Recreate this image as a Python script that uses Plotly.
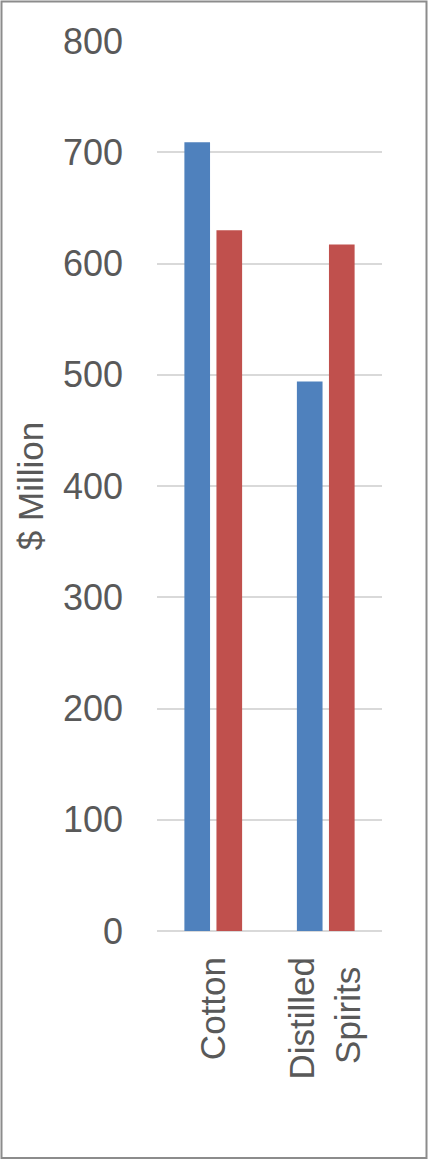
import plotly.graph_objects as go

categories = ["Cotton", "Distilled<br>Spirits\u00a0"]
series_a = [709, 494]
series_b = [630, 617]
y_ticks = [0, 100, 200, 300, 400, 500, 600, 700, 800]

W, H = 428, 1160
ML, MR, MT, MB = 157, 46, 41, 229
PW, PH = W - ML - MR, H - MT - MB

fig = go.Figure()
fig.add_trace(go.Bar(x=categories, y=series_a, name="Series 1",
                     marker=dict(color="#4F81BD", line=dict(width=0))))
fig.add_trace(go.Bar(x=categories, y=series_b, name="Series 2",
                     marker=dict(color="#C0504D", line=dict(width=0))))

font_family = "Liberation Sans, Arial, sans-serif"
txt = "#595959"

def px_x(p):
    return (p - ML) / PW

def px_y(p):
    return (H - MB - p) / PH

fig.update_layout(
    width=W, height=H,
    margin=dict(l=ML, r=MR, t=MT, b=MB, autoexpand=False),
    paper_bgcolor="white", plot_bgcolor="white",
    showlegend=False,
    barmode="group", bargap=0.43, bargroupgap=0.2,
    font=dict(family=font_family, color=txt, size=35),
    xaxis=dict(tickangle=-90, tickfont=dict(size=35, color=txt),
               showgrid=False, showline=False, zeroline=False,
               ticks="", ticklabelstandoff=18, automargin=False),
    yaxis=dict(range=[0, 800], tickvals=y_ticks, ticktext=[str(v) for v in y_ticks],
               tickfont=dict(size=36, color=txt),
               showgrid=True, gridcolor="#D9D9D9", gridwidth=1.5,
               zeroline=True, zerolinecolor="#D9D9D9", zerolinewidth=1.5,
               showline=False, ticks="", ticklabelstandoff=33, automargin=False,
               title=dict(text="$ Million", font=dict(size=35, color=txt), standoff=8)),
    shapes=[dict(type="rect", xref="paper", yref="paper",
                 x0=px_x(1.5), x1=px_x(426.5), y0=px_y(1158), y1=px_y(1.5),
                 line=dict(color="#8C8C8C", width=2), fillcolor="rgba(0,0,0,0)",
                 layer="below")],
)

fig.write_html("out.html",
               config={"displayModeBar": False},
               post_script="document.body.style.margin='0';document.body.style.padding='0';")
